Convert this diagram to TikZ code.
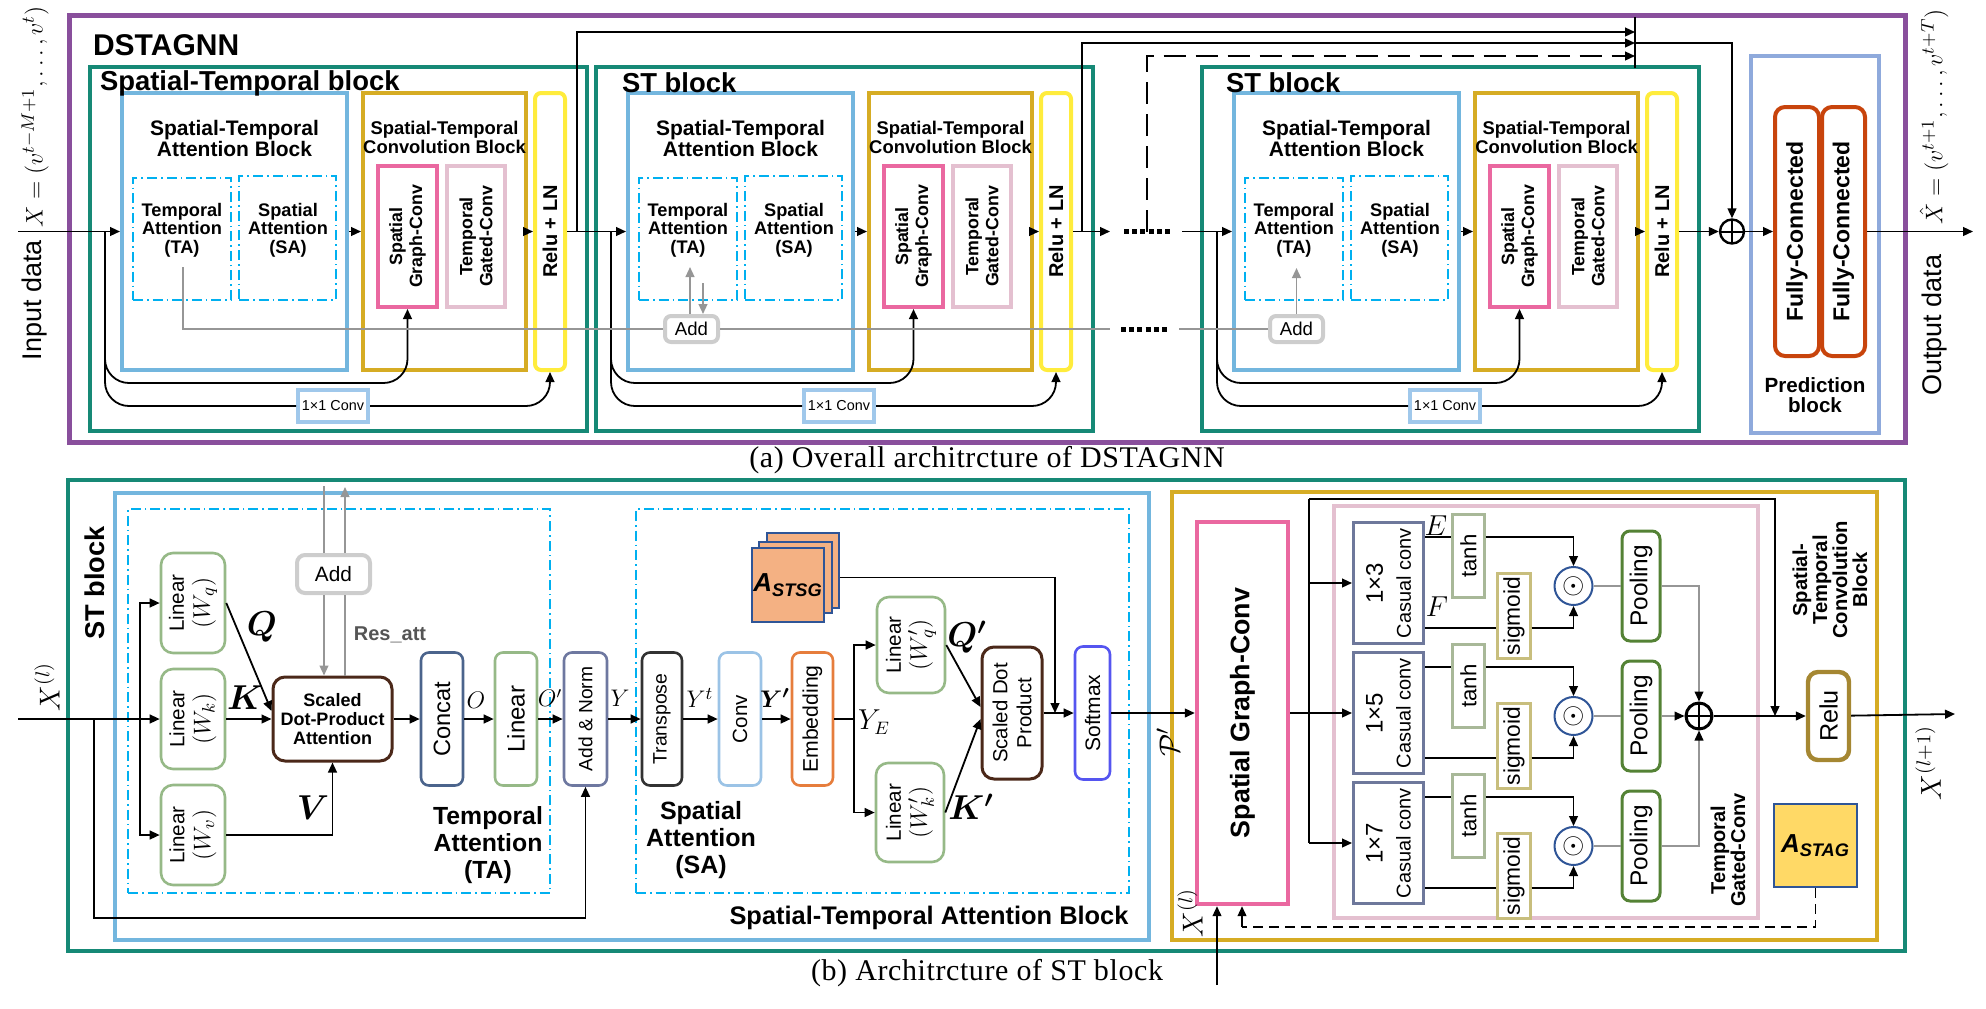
\documentclass[tikz,border=0pt]{standalone}
\usepackage{fontspec}
\setmainfont{Liberation Serif}
\setsansfont{Liberation Sans}
\newfontfamily\capfont[LetterSpace=2]{Liberation Serif}
\usepackage{bm}
\usetikzlibrary{arrows.meta}

\newcommand{\fsz}[2]{\fontsize{#1pt}{#2pt}\selectfont}

\definecolor{cpurple}{RGB}{137,79,156}
\definecolor{cteal}{RGB}{22,137,118}
\definecolor{cstab}{RGB}{115,182,222}
\definecolor{cgold}{RGB}{214,172,36}
\definecolor{cpink}{RGB}{234,104,160}
\definecolor{cltpink}{RGB}{228,192,208}
\definecolor{cyellow}{RGB}{255,236,60}
\definecolor{dcyan}{RGB}{0,176,240}
\definecolor{cpred}{RGB}{143,170,220}
\definecolor{cfc}{RGB}{200,68,12}
\definecolor{cconv}{RGB}{160,200,235}
\definecolor{cgray}{RGB}{205,205,205}
\definecolor{lgray}{RGB}{150,150,150}
\definecolor{cdgray}{RGB}{85,85,85}
\definecolor{cgreen}{RGB}{150,185,135}
\definecolor{cbrown}{RGB}{75,40,25}
\definecolor{cnavy}{RGB}{75,100,140}
\definecolor{cslate}{RGB}{110,120,160}
\definecolor{cdark}{RGB}{50,50,50}
\definecolor{clblue}{RGB}{155,195,230}
\definecolor{corange}{RGB}{230,125,60}
\definecolor{cviolet}{RGB}{85,85,240}
\definecolor{csalmon}{RGB}{244,177,131}
\definecolor{cnblue}{RGB}{47,85,151}
\definecolor{cgoldfill}{RGB}{255,217,102}
\definecolor{ccas}{RGB}{110,120,155}
\definecolor{ctanh}{RGB}{168,184,152}
\definecolor{csig}{RGB}{200,190,125}
\definecolor{cpool}{RGB}{84,130,53}
\definecolor{colive}{RGB}{165,135,50}

\tikzset{
  box/.style={draw, inner sep=0pt},
  rbox/.style={draw, inner sep=0pt, rounded corners=4pt, fill=white},
  vt/.style={rotate=90, align=center},
  btxt/.style={align=center, font=\sffamily\bfseries\fsz{9.1}{9.3}},
  ln/.style={line width=0.9pt},
  arr/.style={line width=0.9pt, -{Triangle[length=5pt,width=4.4pt]}},
  gl/.style={draw=lgray, line width=0.9pt},
  garr/.style={draw=lgray, line width=0.9pt, -{Triangle[length=5pt,width=4.4pt]}},
  parr/.style={draw=lgray, line width=0.7pt, -{Triangle[length=5pt,width=4.4pt,color=black]}},
  dots/.style={line width=2.5pt, dash pattern=on 2.5pt off 1.6pt},
  dashdot/.style={draw=dcyan, line width=0.8pt, dash pattern=on 5pt off 2pt on 0.8pt off 2pt},
  longdash/.style={line width=0.9pt, dash pattern=on 11pt off 5pt},
  oplus/.style={circle, draw, inner sep=0pt, path picture={
    \draw[line width=1pt] (path picture bounding box.north) -- (path picture bounding box.south)
      (path picture bounding box.west) -- (path picture bounding box.east);}},
}

\begin{document}
\begin{tikzpicture}[x=0.5pt,y=-0.5pt]
\useasboundingbox (0,0) rectangle (1986,1008);

\node[box, draw=cpurple, line width=2.5pt, minimum width=918pt, minimum height=213.5pt] (dstagnn) at (987,228.5) {};
\node[anchor=west, font=\sffamily\bfseries\fsz{15}{17}] (dstagnnt) at (86,45) {DSTAGNN};

\foreach \i/\dx in {1/0,2/506,3/1112}{
  \node[box, draw=cteal, line width=2.2pt, minimum width=248.5pt, minimum height=182pt] (blk\i) at (338.5+\dx,249) {};
  \node[box, draw=cstab, line width=2pt, minimum width=112.5pt, minimum height=138.5pt] (stab\i) at (234.5+\dx,231.5) {};
  \node[btxt, font=\sffamily\bfseries\fsz{10.5}{10.5}] (stabt\i) at (234.5+\dx,138) {Spatial-Temporal\\Attention Block};
  \node[box, dashdot, minimum width=49pt, minimum height=61pt] (ta\i) at (182+\dx,239) {};
  \node[btxt] (tat\i) at (182+\dx,230) {Temporal\\Attention\\(TA)};
  \node[box, dashdot, minimum width=48.5pt, minimum height=62pt] (sa\i) at (287.5+\dx,238) {};
  \node[btxt] (sat\i) at (288+\dx,230) {Spatial\\Attention\\(SA)};
  \node[box, draw=cgold, line width=2pt, minimum width=81.5pt, minimum height=138.5pt] (stcb\i) at (444.5+\dx,231.5) {};
  \node[btxt, font=\sffamily\bfseries\fsz{9.2}{9.5}] (stcbt\i) at (444.5+\dx,137.5) {Spatial-Temporal\\Convolution Block};
  \node[box, draw=cpink, line width=2pt, minimum width=29.5pt, minimum height=70.5pt,
    label={[vt,font=\sffamily\bfseries\fsz{8.9}{10}]center:Spatial\\Graph-Conv}] (sgc\i) at (407.5+\dx,236.5) {};
  \node[box, draw=cltpink, line width=2pt, minimum width=29pt, minimum height=70.5pt,
    label={[vt,font=\sffamily\bfseries\fsz{8.9}{10}]center:Temporal\\Gated-Conv}] (tgc\i) at (476+\dx,236.5) {};
  \node[box, draw=cyellow, line width=2pt, rounded corners=3pt, minimum width=15pt, minimum height=138.5pt,
    label={[vt,font=\sffamily\bfseries\fsz{10}{11}]center:Relu + LN}] (relu\i) at (550+\dx,231.5) {};
  \node[box, draw=cconv, line width=2pt, fill=white, minimum width=35pt, minimum height=16pt,
    font=\sffamily\fsz{7.2}{8}] (cv\i) at (333+\dx,406) {1×1 Conv};
  \coordinate (sp\i) at (105+\dx,231.5);
  \coordinate (in\i) at (407.5+\dx,383);
  \draw[arr] (stab\i) -- (stcb\i);
  \draw[arr] (stcb\i) -- (relu\i);
  \draw[arr, rounded corners=12pt] (sp\i) |- (in\i) -- (sgc\i.south);
  \draw[arr, rounded corners=12pt] (sp\i) |- (cv\i) -| (relu\i.south);
}
\node[anchor=west, font=\sffamily\bfseries\fsz{13.7}{15}] (blk1t) at (93,83) {Spatial-Temporal block};
\node[anchor=west, font=\sffamily\bfseries\fsz{13.7}{15}] (blk2t) at (615,83) {ST block};
\node[anchor=west, font=\sffamily\bfseries\fsz{13.7}{15}] (blk3t) at (1219,83) {ST block};

\node[vt, font=\sffamily\fsz{13.5}{15}] (indata) at (35,300) {Input data};
\node[vt, font=\fsz{12.3}{14}] (inform) at (35,117) {$X=(v^{t-M+1},\dots,v^{t})$};
\node[vt, font=\sffamily\fsz{13.5}{15}] (outdata) at (1934,325) {Output data};
\node[vt, font=\fsz{12.3}{14}] (outform) at (1934,117) {$\hat{X}=(v^{t+1},\dots,v^{t+T})$};

\node[box, draw=cpred, line width=2pt, minimum width=64pt, minimum height=188.5pt] (pred) at (1815,244.5) {};
\node[btxt, font=\sffamily\bfseries\fsz{10.3}{10}] (predt) at (1815,395) {Prediction\\block};
\node[rbox, draw=cfc, line width=2pt, rounded corners=5pt, minimum width=22pt, minimum height=124.5pt,
  label={[vt,font=\sffamily\bfseries\fsz{11.5}{13}]center:Fully-Connected}] (fc1) at (1797,231.5) {};
\node[rbox, draw=cfc, line width=2pt, rounded corners=5pt, minimum width=21.5pt, minimum height=124.5pt,
  label={[vt,font=\sffamily\bfseries\fsz{11.5}{13}]center:Fully-Connected}] (fc2) at (1843.5,231.5) {};
\node[oplus, line width=1.2pt, minimum size=12pt] (sum) at (1732,231.5) {};

\coordinate (xin) at (18,231.5);
\coordinate (d1) at (1110,231.5);
\coordinate (d2) at (1124,231.5);
\coordinate (d3) at (1171,231.5);
\coordinate (d4) at (1182,231.5);
\coordinate (xout) at (1973,231.5);
\draw[arr] (xin) -- (stab1);
\draw[arr] (relu1) -- (stab2);
\draw[arr] (relu2) -- (d1);
\draw[dots] (d2) -- (d3);
\draw[arr] (d4) -- (stab3);
\draw[arr] (relu3) -- (sum);
\draw[arr] (sum) -- (fc1);
\draw[arr] (fc2) -- (xout);

\coordinate (k1) at (577,231.5);
\coordinate (k2) at (1082,231.5);
\coordinate (k3) at (1147,231.5);
\coordinate (m1) at (1635,32);
\coordinate (m2) at (1635,43);
\coordinate (m3) at (1635,56);
\coordinate (mt) at (1635,17);
\coordinate (mb) at (1635,68);
\draw[arr] (k1) |- (m1);
\draw[arr] (k2) |- (m2);
\draw[arr, longdash] (k3) |- (m3);
\draw[ln] (mt) -- (mb);
\draw[arr] (m2) -| (sum);

\node[rbox, draw=cgray, line width=2pt, rounded corners=3pt, minimum width=26.5pt, minimum height=13pt,
  font=\sffamily\fsz{9.3}{10}] (add2) at (691.5,329) {Add};
\node[rbox, draw=cgray, line width=2pt, rounded corners=3pt, minimum width=26.5pt, minimum height=13pt,
  font=\sffamily\fsz{9.3}{10}] (add3) at (1296.5,329) {Add};
\coordinate (g0) at (183,267);
\coordinate (g2u) at (690,267);
\coordinate (g2d) at (703,283);
\coordinate (g3u) at (1296.5,268);
\coordinate (g1a) at (1110,329);
\coordinate (g1b) at (1121,329);
\coordinate (g1c) at (1168,329);
\coordinate (g1d) at (1179,329);
\draw[gl] (g0) |- (add2);
\draw[garr] (add2.north -| g2u) -- (g2u);
\draw[garr] (g2d) -- (g2d |- add2.north);
\draw[gl] (add2) -- (g1a);
\draw[dots] (g1b) -- (g1c);
\draw[gl] (g1d) -- (add3);
\draw[garr] (add3) -- (g3u);

\node[font=\capfont\fsz{15}{17}] (capa) at (987,460) {(a) Overall architrcture of DSTAGNN};
\node[font=\capfont\fsz{15}{17}] (capb) at (987,973) {(b) Architrcture of ST block};

\node[box, draw=cteal, line width=2.2pt, minimum width=918.5pt, minimum height=235.5pt] (stblk) at (986.5,715.5) {};
\node[vt, font=\sffamily\bfseries\fsz{13.6}{15}] (stblkt) at (95,583) {ST block};
\node[box, draw=cstab, line width=2pt, minimum width=517pt, minimum height=223.5pt] (bstab) at (632,716.5) {};
\node[box, draw=cgold, line width=2pt, minimum width=352.5pt, minimum height=224pt] (bstcb) at (1524.5,716) {};
\node[box, dashdot, minimum width=211pt, minimum height=192pt] (bta) at (339,701) {};
\node[box, dashdot, minimum width=246.5pt, minimum height=192pt] (bsa) at (882.5,701) {};
\node[btxt, font=\sffamily\bfseries\fsz{12.4}{13.5}] (btat) at (488,845) {Temporal\\Attention\\(TA)};
\node[btxt, font=\sffamily\bfseries\fsz{12.5}{13.5}] (bsat) at (701,840) {Spatial\\Attention\\(SA)};
\node[font=\sffamily\bfseries\fsz{12.7}{14}] (bstabt) at (929,918) {Spatial-Temporal Attention Block};

\node[rbox, draw=cgreen, line width=1.3pt, rounded corners=6pt, minimum width=32pt, minimum height=50pt,
  label={[vt,font=\sffamily\fsz{10.3}{13}]center:Linear\\{\fsz{12.5}{13}$(W_q)$}}] (wq) at (193,603) {};
\node[rbox, draw=cgreen, line width=1.3pt, rounded corners=6pt, minimum width=32pt, minimum height=50pt,
  label={[vt,font=\sffamily\fsz{10.3}{13}]center:Linear\\{\fsz{12.5}{13}$(W_k)$}}] (wk) at (193,719) {};
\node[rbox, draw=cgreen, line width=1.3pt, rounded corners=6pt, minimum width=32pt, minimum height=50pt,
  label={[vt,font=\sffamily\fsz{10.3}{13}]center:Linear\\{\fsz{12.5}{13}$(W_v)$}}] (wv) at (193,835) {};
\node[rbox, draw=cbrown, line width=1.5pt, rounded corners=6pt, minimum width=59.5pt, minimum height=42pt,
  align=center, font=\sffamily\bfseries\fsz{9}{9.7}] (sdpa) at (332.5,719) {Scaled\\Dot-Product\\Attention};
\node[rbox, draw=cgray, line width=2pt, minimum width=36.5pt, minimum height=19pt,
  font=\sffamily\fsz{10.4}{11}] (addb) at (333.5,574) {Add};
\node[font=\sffamily\bfseries\fsz{10}{11}, text=cdgray] (resatt) at (390,635) {Res\_att};
\node[rbox, draw=cnavy, line width=1.3pt, minimum width=21pt, minimum height=66.5pt,
  label={[vt,font=\sffamily\fsz{11.8}{13}]center:Concat}] (concat) at (442,719) {};
\node[rbox, draw=cgreen, line width=1.3pt, minimum width=21pt, minimum height=66.5pt,
  label={[vt,font=\sffamily\fsz{12}{13}]center:Linear}] (linb) at (516,719) {};
\node[rbox, draw=cslate, line width=1.3pt, minimum width=21.5pt, minimum height=66.5pt,
  label={[vt,font=\sffamily\fsz{9.6}{11}]center:Add \& Norm}] (addnorm) at (585.5,719) {};
\node[rbox, draw=cdark, line width=1.3pt, minimum width=20pt, minimum height=66.5pt,
  label={[vt,font=\sffamily\fsz{9.7}{11}]center:Transpose}] (transp) at (662,719) {};
\node[rbox, draw=clblue, line width=1.3pt, minimum width=21pt, minimum height=66.5pt,
  label={[vt,font=\sffamily\fsz{10.3}{11}]center:Conv}] (convb) at (740,719) {};
\node[rbox, draw=corange, line width=1.3pt, minimum width=20.5pt, minimum height=66.5pt,
  label={[vt,font=\sffamily\fsz{10.6}{11}]center:Embedding}] (embed) at (812.5,719) {};
\node[rbox, draw=cgreen, line width=1.3pt, rounded corners=6pt, minimum width=34pt, minimum height=48pt,
  label={[vt,font=\sffamily\fsz{10.3}{13}]center:Linear\\{\fsz{12.5}{13}$(W'_q)$}}] (wqp) at (911,645) {};
\node[rbox, draw=cgreen, line width=1.3pt, rounded corners=6pt, minimum width=34pt, minimum height=49.5pt,
  label={[vt,font=\sffamily\fsz{10.3}{13}]center:Linear\\{\fsz{12.5}{13}$(W'_k)$}}] (wkp) at (910,812.5) {};
\node[rbox, draw=cbrown, line width=1.5pt, rounded corners=6pt, minimum width=30pt, minimum height=66pt,
  label={[vt,font=\sffamily\fsz{10.2}{12}]center:Scaled Dot\\Product}] (sdp) at (1012,713) {};
\node[rbox, draw=cviolet, line width=1.3pt, minimum width=17.5pt, minimum height=66.5pt,
  label={[vt,font=\sffamily\fsz{10.5}{11}]center:Softmax}] (softmax) at (1092.5,713) {};
\node[box, fill=csalmon, draw=cnblue, line width=1pt, minimum width=36pt, minimum height=37.5pt] (astsg3) at (803,570.5) {};
\node[box, fill=csalmon, draw=cnblue, line width=1pt, minimum width=36.5pt, minimum height=35.5pt] (astsg2) at (795.5,577.5) {};
\node[box, fill=csalmon, draw=cnblue, line width=1pt, minimum width=36pt, minimum height=37pt,
  font=\sffamily\bfseries\itshape\fsz{13}{14}] (astsg1) at (788,585) {A\textsubscript{STSG}};

\node[font=\fsz{17}{17}] (qlab) at (262,627) {$\bm{Q}$};
\node[font=\fsz{17}{17}] (klab) at (245,698) {$\bm{K}$};
\node[font=\fsz{17}{17}] (vlab) at (313,808) {$\bm{V}$};
\node[font=\fsz{12}{12}] (olab) at (476,700) {$O$};
\node[font=\fsz{12}{12}] (oplab) at (550,698) {$O'$};
\node[font=\fsz{13}{13}] (ylab) at (620,698) {$Y$};
\node[font=\fsz{13}{13}] (ytlab) at (700,698) {$Y^t$};
\node[font=\fsz{13}{13}] (yplab) at (775,698) {$\bm{Y'}$};
\node[font=\fsz{13.5}{13}] (yelab) at (874,722) {$Y_E$};
\node[font=\fsz{17}{17}] (qplab) at (967,637) {$\bm{Q'}$};
\node[font=\fsz{17}{17}] (kplab) at (971,807) {$\bm{K'}$};
\node[vt, font=\fsz{14}{14}] (xllab) at (47,687) {$X^{(l)}$};

\coordinate (xl) at (18,719);
\coordinate (br1) at (140,719);
\coordinate (br2) at (94,719);
\coordinate (rb) at (94,918);
\coordinate (spl) at (854,719);
\coordinate (smj) at (1055,713);
\coordinate (ga) at (324,486);
\coordinate (gb) at (345,487);
\draw[arr] (xl) -- (wk);
\draw[arr] (br1) |- (wq);
\draw[arr] (br1) |- (wv);
\draw[arr] (br2) -- (rb) -| (addnorm);
\draw[arr] (wq.east) -- ([yshift=4pt]sdpa.west);
\draw[arr] (wk) -- (sdpa);
\draw[arr] (wv) -| (sdpa);
\draw[arr] (sdpa) -- (concat);
\draw[arr] (concat) -- (linb);
\draw[arr] (linb) -- (addnorm);
\draw[arr] (addnorm) -- (transp);
\draw[arr] (transp) -- (convb);
\draw[arr] (convb) -- (embed);
\draw[ln] (embed) -- (spl);
\draw[arr] (spl) |- (wqp);
\draw[arr] (spl) |- (wkp);
\draw[arr] (wqp.east) -- ([yshift=3pt]sdp.west);
\draw[arr] (wkp.east) -- ([yshift=-3pt]sdp.west);
\draw[arr] (sdp) -- (softmax);
\draw[arr] (astsg3.east |- astsg2) -| (smj);
\draw[gl] (ga) -- (ga |- addb.north);
\draw[garr] (ga |- addb.south) -- (ga |- sdpa.north);
\draw[gl] (gb |- sdpa.north) -- (gb |- addb.south);
\draw[garr] (gb |- addb.north) -- (gb);

\node[box, draw=cpink, line width=2.2pt, minimum width=45.5pt, minimum height=191pt,
  label={[vt,font=\sffamily\bfseries\fsz{13.4}{15}]center:Spatial Graph-Conv}] (bsgc) at (1242.5,713) {};
\node[box, draw=cltpink, line width=2pt, minimum width=212pt, minimum height=206pt] (btgc) at (1546,712) {};
\node[vt, font=\fsz{15}{15}] (pplab) at (1168,742) {$\mathcal{P}'$};
\draw[arr] (softmax) -- (bsgc);

\foreach \k/\yc in {3/583,5/713,7/843}{
  \node[box, draw=ccas, line width=1.5pt, minimum width=35pt, minimum height=60.5pt,
    label={[vt,font=\sffamily\fsz{10}{14}]center:{\fsz{12}{13}1×\k}\\Casual conv}] (c\k) at (1388.5,\yc) {};
  \node[box, draw=ctanh, line width=1.2pt, fill=white, minimum width=16pt, minimum height=41.5pt,
    label={[vt,font=\sffamily\fsz{11.1}{12}]center:tanh}] (t\k) at (1468.5,\yc-27) {};
  \node[box, draw=csig, line width=1.2pt, fill=white, minimum width=16.5pt, minimum height=42.5pt,
    label={[vt,font=\sffamily\fsz{11.4}{12}]center:sigmoid}] (s\k) at (1514,\yc+33) {};
  \node[circle, draw=cnblue, line width=1pt, minimum size=19pt, inner sep=0pt,
    font=\fsz{15}{15}] (o\k) at (1573.5,\yc+3) {$\odot$};
  \node[rbox, draw=cpool, line width=1.5pt, minimum width=19pt, minimum height=55pt,
    label={[vt,font=\sffamily\fsz{12.2}{13}]center:Pooling}] (p\k) at (1641,\yc+3) {};
  \coordinate (e\k) at ([yshift=23pt]c\k.east);
  \coordinate (f\k) at ([yshift=-22.5pt]c\k.east);
  \draw[ln] (e\k) -- (e\k -| t\k.west);
  \draw[arr] (e\k -| t\k.east) -| (o\k);
  \draw[ln] (f\k) -- (f\k -| s\k.west);
  \draw[arr] (f\k -| s\k.east) -| (o\k);
  \draw[gl, line width=0.7pt] (o\k) -- (p\k);
}
\node[font=\fsz{14.5}{15}] (elab) at (1436,526) {$E$};
\node[font=\fsz{14.5}{15}] (flab) at (1437,607) {$F$};

\node[oplus, line width=1.5pt, minimum size=13pt] (bsum) at (1699,716) {};
\node[rbox, draw=colive, line width=2.2pt, rounded corners=5pt, minimum width=20.5pt, minimum height=44pt,
  label={[vt,font=\sffamily\fsz{12.6}{14}]center:Relu}] (relub) at (1828.5,716) {};
\node[box, fill=cgoldfill, draw=cnblue, line width=1pt, minimum width=41.5pt, minimum height=41.5pt,
  font=\sffamily\bfseries\itshape\fsz{13}{14}] (astag) at (1815.5,845.5) {A\textsubscript{STAG}};
\node[vt, font=\sffamily\bfseries\fsz{10.1}{10}] (bstcbt) at (1830,580) {Spatial-\\Temporal\\Convolution\\Block};
\node[vt, font=\sffamily\bfseries\fsz{10}{10}] (btgct) at (1728,850) {Temporal\\Gated-Conv};
\node[vt, font=\fsz{14}{14}] (xolab) at (1928,763) {$X^{(l+1)}$};
\node[vt, font=\fsz{14}{14}] (xlblab) at (1190,913) {$X^{(l)}$};

\coordinate (jt) at (1309,499);
\coordinate (jb) at (1309,843);
\coordinate (rj) at (1775,716);
\coordinate (xo) at (1955,714);
\coordinate (dj) at (1242,927);
\coordinate (xlb) at (1217,985);
\draw[arr] (bsgc) -- (c5);
\draw[ln] (jt) -- (jb);
\draw[arr] (jb) -- (c7);
\draw[arr] (jt |- c3) -- (c3);
\draw[arr] (jt) -| (rj);
\draw[parr] (p3) -| (bsum);
\draw[parr] (p5) -- (bsum);
\draw[parr] (p7) -| (bsum);
\draw[arr] (bsum) -- (relub);
\draw[arr] (relub) -- (xo);
\draw[ln, dash pattern=on 5pt off 3pt] (astag) |- (dj);
\draw[arr] (dj) -- (dj |- bsgc.south);
\draw[arr] (xlb) -- (xlb |- bsgc.south);
\end{tikzpicture}
\end{document}
